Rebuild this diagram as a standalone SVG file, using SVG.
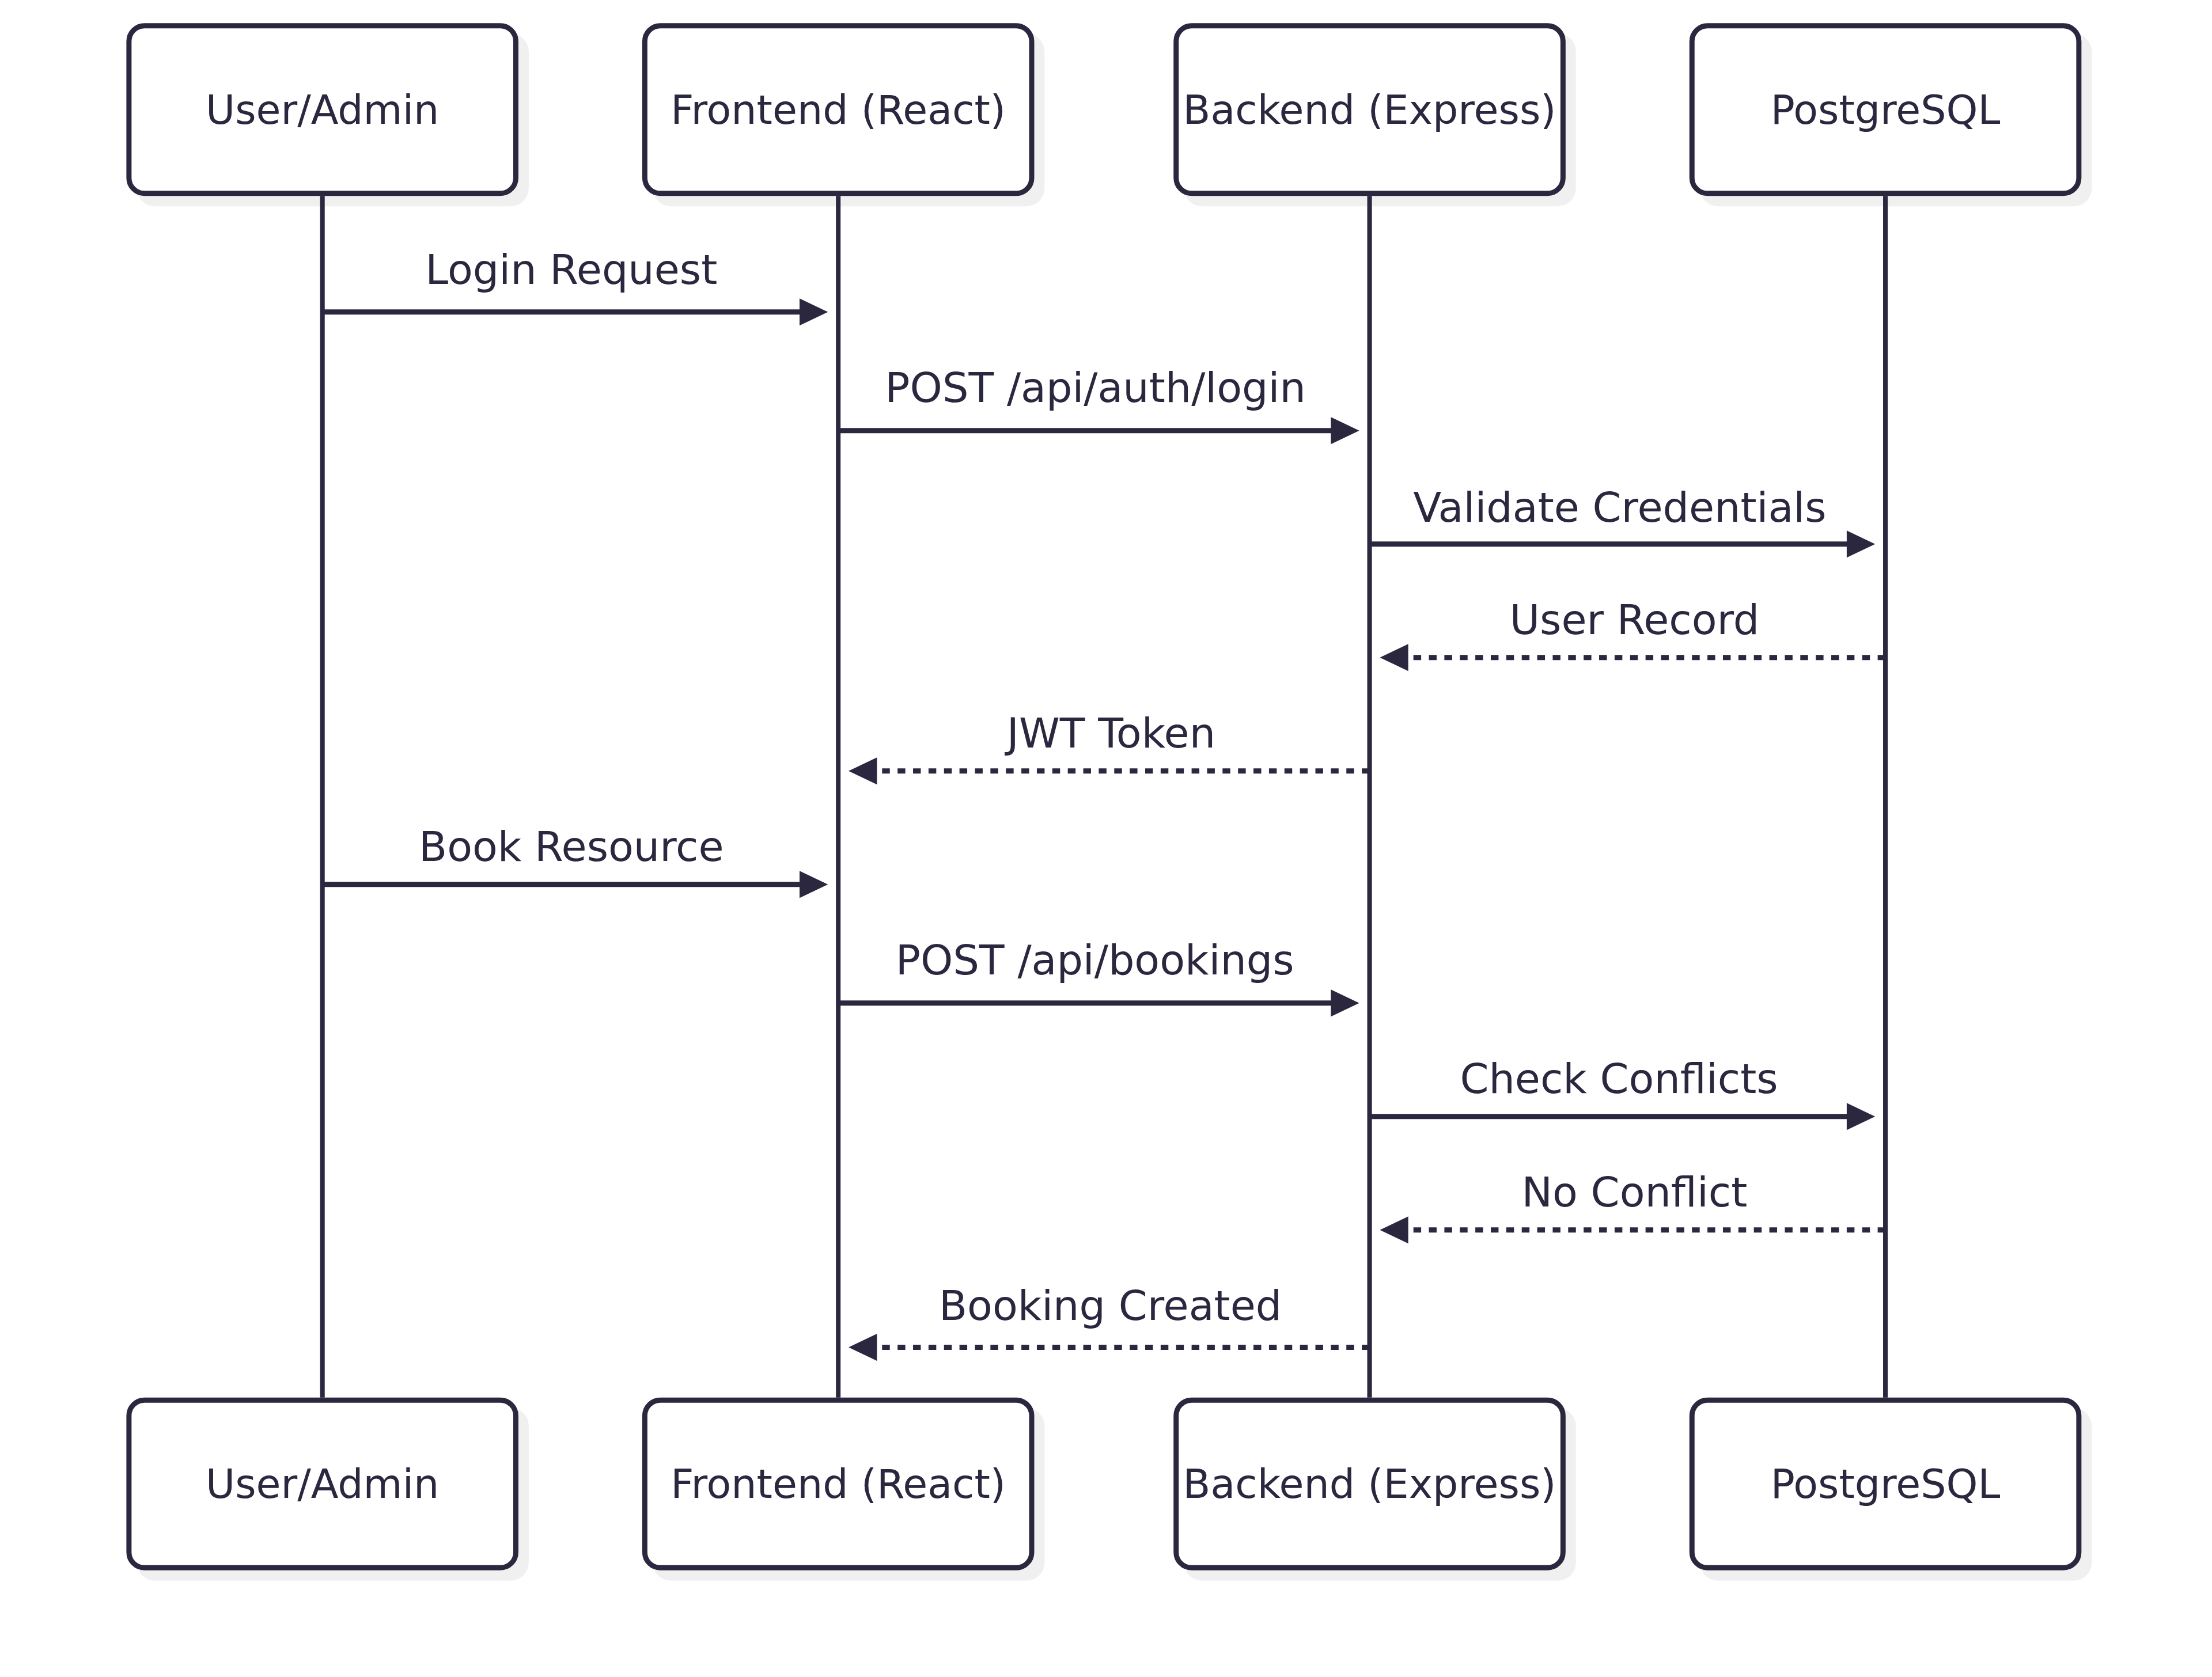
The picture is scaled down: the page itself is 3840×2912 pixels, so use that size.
<svg xmlns="http://www.w3.org/2000/svg" width="3840" height="2912" viewBox="0 0 3840 2912">
<style>
.actor{fill:#ffffff;stroke:#2a273f;stroke-width:2}
.shadow{fill:#f0f0f0;stroke:none}
.life{stroke:#2a273f;stroke-width:1.8;fill:none}
.msg{stroke:#2a273f;stroke-width:2;fill:none}
.dash{stroke-dasharray:3 3}
.head{fill:#2a273f;stroke:none}
.at{font-family:"DejaVu Sans","Liberation Sans",sans-serif;font-size:15.6px;fill:#2a273f;text-anchor:middle}
.mt{font-family:"DejaVu Sans","Liberation Sans",sans-serif;font-size:16px;fill:#2a273f;text-anchor:middle}
</style>
<rect x="0" y="0" width="3840" height="2912" fill="#ffffff"/>
<g transform="scale(4.4775)">
<g id="actor-user-top">
<rect class="shadow" x="53" y="13" width="152" height="67" rx="7"/>
<rect class="actor" x="50" y="10" width="150" height="65" rx="6"/>
<text class="at" x="125" y="48">User/Admin</text>
</g>
<g id="actor-frontend-top">
<rect class="shadow" x="253" y="13" width="152" height="67" rx="7"/>
<rect class="actor" x="250" y="10" width="150" height="65" rx="6"/>
<text class="at" x="325" y="48">Frontend (React)</text>
</g>
<g id="actor-backend-top">
<rect class="shadow" x="459" y="13" width="152" height="67" rx="7"/>
<rect class="actor" x="456" y="10" width="150" height="65" rx="6"/>
<text class="at" x="531" y="48">Backend (Express)</text>
</g>
<g id="actor-postgres-top">
<rect class="shadow" x="659" y="13" width="152" height="67" rx="7"/>
<rect class="actor" x="656" y="10" width="150" height="65" rx="6"/>
<text class="at" x="731" y="48">PostgreSQL</text>
</g>
<g id="actor-user-bottom">
<rect class="shadow" x="53" y="546" width="152" height="67" rx="7"/>
<rect class="actor" x="50" y="543" width="150" height="65" rx="6"/>
<text class="at" x="125" y="581">User/Admin</text>
</g>
<g id="actor-frontend-bottom">
<rect class="shadow" x="253" y="546" width="152" height="67" rx="7"/>
<rect class="actor" x="250" y="543" width="150" height="65" rx="6"/>
<text class="at" x="325" y="581">Frontend (React)</text>
</g>
<g id="actor-backend-bottom">
<rect class="shadow" x="459" y="546" width="152" height="67" rx="7"/>
<rect class="actor" x="456" y="543" width="150" height="65" rx="6"/>
<text class="at" x="531" y="581">Backend (Express)</text>
</g>
<g id="actor-postgres-bottom">
<rect class="shadow" x="659" y="546" width="152" height="67" rx="7"/>
<rect class="actor" x="656" y="543" width="150" height="65" rx="6"/>
<text class="at" x="731" y="581">PostgreSQL</text>
</g>
<g id="lifelines">
<line class="life" x1="125" y1="76" x2="125" y2="542"/>
<line class="life" x1="325" y1="76" x2="325" y2="542"/>
<line class="life" x1="531" y1="76" x2="531" y2="542"/>
<line class="life" x1="731" y1="76" x2="731" y2="542"/>
</g>
<g id="connectors">
<line class="msg" x1="125" y1="121" x2="312" y2="121"/>
<polygon class="head" points="321,121 310,115.75 310,126.25"/>
<line class="msg" x1="325" y1="167" x2="518" y2="167"/>
<polygon class="head" points="527,167 516,161.75 516,172.25"/>
<line class="msg" x1="531" y1="211" x2="718" y2="211"/>
<polygon class="head" points="727,211 716,205.75 716,216.25"/>
<line class="msg dash" x1="731" y1="255" x2="546" y2="255"/>
<polygon class="head" points="535,255 546,249.75 546,260.25"/>
<line class="msg dash" x1="531" y1="299" x2="340" y2="299"/>
<polygon class="head" points="329,299 340,293.75 340,304.25"/>
<line class="msg" x1="125" y1="343" x2="312" y2="343"/>
<polygon class="head" points="321,343 310,337.75 310,348.25"/>
<line class="msg" x1="325" y1="389" x2="518" y2="389"/>
<polygon class="head" points="527,389 516,383.75 516,394.25"/>
<line class="msg" x1="531" y1="433" x2="718" y2="433"/>
<polygon class="head" points="727,433 716,427.75 716,438.25"/>
<line class="msg dash" x1="731" y1="477" x2="546" y2="477"/>
<polygon class="head" points="535,477 546,471.75 546,482.25"/>
<line class="msg dash" x1="531" y1="522.5" x2="340" y2="522.5"/>
<polygon class="head" points="329,522.5 340,517.25 340,527.75"/>
</g>
<g id="labels">
<text class="mt" x="221.5" y="110">Login Request</text>
<text class="mt" x="424.7" y="156">POST /api/auth/login</text>
<text class="mt" x="628" y="202.3">Validate Credentials</text>
<text class="mt" x="633.7" y="246">User Record</text>
<text class="mt" x="430.8" y="290">JWT Token</text>
<text class="mt" x="221.5" y="334">Book Resource</text>
<text class="mt" x="424.5" y="378">POST /api/bookings</text>
<text class="mt" x="627.7" y="424">Check Conflicts</text>
<text class="mt" x="633.7" y="468">No Conflict</text>
<text class="mt" x="430.5" y="512">Booking Created</text>
</g>
</g>
</svg>
